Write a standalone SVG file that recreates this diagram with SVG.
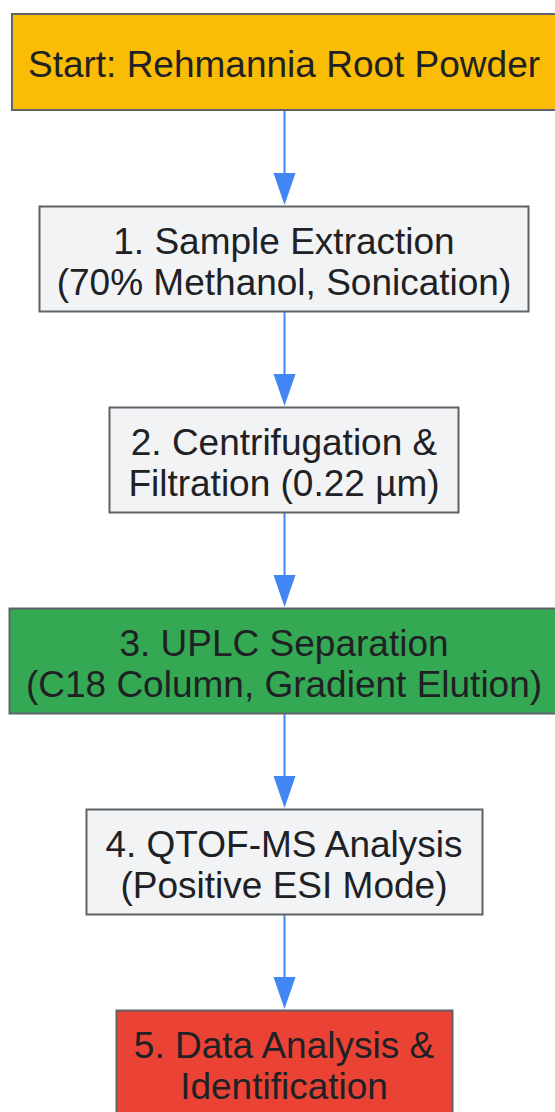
<svg xmlns="http://www.w3.org/2000/svg" width="555" height="1112" viewBox="0 0 555 1112">
<style>
.box{stroke:#5f6368;stroke-width:2}
.gray{fill:#f1f3f4}
.t{font-family:"Liberation Sans",Arial,sans-serif;font-size:37px;fill:#202124;text-anchor:middle}
.c{stroke:#4285f4;stroke-width:2;fill:none}
.h{fill:#4285f4}
</style>
<rect width="555" height="1112" fill="#ffffff"/>
<g id="connectors">
<line class="c" x1="284.5" y1="110" x2="284.5" y2="180"/>
<polygon class="h" points="273.5,173 295.5,173 284.5,205"/>
<line class="c" x1="284.5" y1="311" x2="284.5" y2="380"/>
<polygon class="h" points="273.5,374 295.5,374 284.5,406"/>
<line class="c" x1="284.5" y1="512" x2="284.5" y2="580"/>
<polygon class="h" points="273.5,575 295.5,575 284.5,607"/>
<line class="c" x1="284.5" y1="713" x2="284.5" y2="780"/>
<polygon class="h" points="273.5,776 295.5,776 284.5,808"/>
<line class="c" x1="284.5" y1="914" x2="284.5" y2="980"/>
<polygon class="h" points="273.5,977 295.5,977 284.5,1009"/>
</g>
<g id="start">
<rect class="box" x="12" y="14" width="560" height="96" fill="#fbbc05"/>
<text class="t" x="284" y="77">Start: Rehmannia Root Powder</text>
</g>
<g id="step1">
<rect class="box gray" x="39.5" y="206.5" width="489" height="105"/>
<text class="t" x="284" y="254">1. Sample Extraction</text>
<text class="t" x="284" y="295">(70% Methanol, Sonication)</text>
</g>
<g id="step2">
<rect class="box gray" x="109.5" y="407.5" width="349" height="105"/>
<text class="t" x="284" y="455">2. Centrifugation &amp;</text>
<text class="t" x="284" y="496">Filtration (0.22 µm)</text>
</g>
<g id="step3">
<rect class="box" x="9.5" y="608.5" width="560" height="105" fill="#34a853"/>
<text class="t" x="284" y="656">3. UPLC Separation</text>
<text class="t" x="284" y="697">(C18 Column, Gradient Elution)</text>
</g>
<g id="step4">
<rect class="box gray" x="86.5" y="809.5" width="396" height="105"/>
<text class="t" x="284" y="857">4. QTOF-MS Analysis</text>
<text class="t" x="284" y="898">(Positive ESI Mode)</text>
</g>
<g id="step5">
<rect class="box" x="116.5" y="1010.5" width="336" height="120" fill="#ea4335"/>
<text class="t" x="284" y="1058">5. Data Analysis &amp;</text>
<text class="t" x="284" y="1099">Identification</text>
</g>
</svg>
